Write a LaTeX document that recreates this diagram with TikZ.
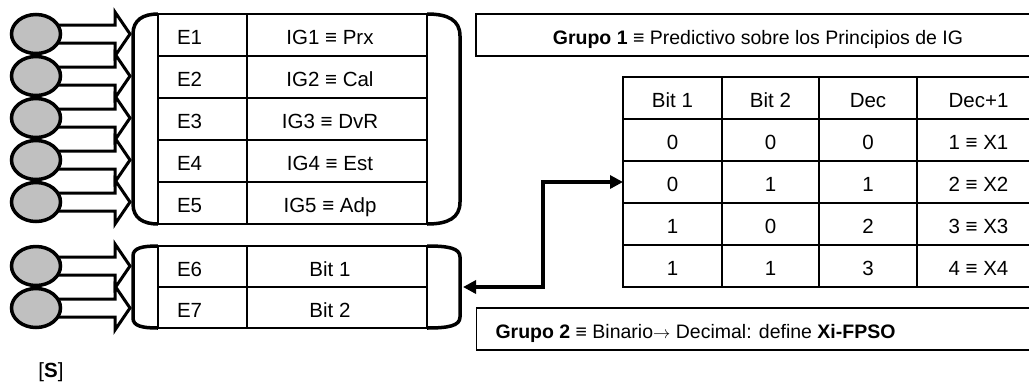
\documentclass[tikz,border=0pt]{standalone}
\usepackage{fontspec}
\setmainfont{Liberation Sans}
\usetikzlibrary{arrows.meta,shapes.geometric}
\definecolor{bulbgray}{HTML}{C0C0C0}
\begin{document}
\begin{tikzpicture}[x=1pt,y=-1pt]
\tikzset{
 base/.style={inner sep=0pt, outer sep=0pt},
 txt/.style={base, font=\fontsize{20.5}{24}\selectfont, text height=14.7pt, text depth=0pt},
 gtxt/.style={base, font=\fontsize{19.5}{23}\selectfont, text height=14pt, text depth=0pt},
 lcell/.style={base, draw, line width=1.3pt, minimum height=42pt},
 rcell/.style={base, draw, line width=1.8pt, minimum height=42pt},
 gbox/.style={base, draw, line width=1.5pt, minimum height=42pt, minimum width=564pt},
 bulb/.style={base, ellipse, draw, line width=3.5pt, fill=bulbgray, minimum width=49pt, minimum height=39pt},
 blk/.style={draw, line width=3pt, fill=white, line join=miter},
 brk/.style={draw, line width=3.5pt},
 conn/.style={draw, line width=4pt, {Triangle[length=13pt,width=13pt]}-{Triangle[length=13pt,width=13pt]}},
}
\useasboundingbox (0,0) rectangle (1029,384);
\clip (0,0) rectangle (1029,384);

% group boxes
\node[gbox] (g1) at (758,35) {};
\node[gtxt] (g1t) at ([yshift=-2pt]g1.center) {\textbf{Grupo 1} ≡ Predictivo sobre los Principios de IG};
\node[gbox] (g2) at (758.5,329) {};
\node[gtxt, anchor=west] (g2t) at ([xshift=19pt,yshift=-2pt]g2.west) {\textbf{Grupo 2} ≡ Binario{\fontsize{17}{20}\selectfont$\rightarrow$} Decimal: define \textbf{Xi-FPSO}};

% left table 1
\foreach \i/\ig/\y in {1/IG1 ≡ Prx/35, 2/IG2 ≡ Cal/77, 3/IG3 ≡ DvR/119, 4/IG4 ≡ Est/161, 5/IG5 ≡ Adp/203}{
  \node[lcell, minimum width=89pt] (e\i) at (202.5,\y) {};
  \node[lcell, minimum width=180pt] (ig\i) at (337,\y) {};
  \node[txt, anchor=west] (e\i t) at ([xshift=19pt,yshift=-2.5pt]e\i.west) {E\i};
  \node[txt] (ig\i t) at ([xshift=-7pt,yshift=-2.5pt]ig\i.center) {\ig};
}
% left table 2
\foreach \i/\ig/\y in {6/Bit 1/266.5, 7/Bit 2/307.5}{
  \node[lcell, minimum width=89pt, minimum height=41pt] (e\i) at (202.5,\y) {};
  \node[lcell, minimum width=180pt, minimum height=41pt] (ig\i) at (337,\y) {};
  \node[txt, anchor=west] (e\i t) at ([xshift=19pt,yshift=-2.5pt]e\i.west) {E\i};
  \node[txt] (ig\i t) at ([xshift=-7pt,yshift=-2.5pt]ig\i.center) {\ig};
}

% right table
\foreach \r/\a/\b/\c/\d/\y in {0/Bit 1/Bit 2/Dec/Dec+1/98, 1/0/0/0/1 ≡ X1/140, 2/0/1/1/2 ≡ X2/182, 3/1/0/2/3 ≡ X3/224, 4/1/1/3/4 ≡ X4/266}{
  \node[rcell, minimum width=99pt] (r\r c1) at (672.5,\y) {};
  \node[rcell, minimum width=97pt] (r\r c2) at (770.5,\y) {};
  \node[rcell, minimum width=98pt] (r\r c3) at (868,\y) {};
  \node[rcell, minimum width=123pt] (r\r c4) at (978.5,\y) {};
  \node[txt] (r\r t1) at ([yshift=-2.5pt]r\r c1.center) {\a};
  \node[txt] (r\r t2) at ([yshift=-2.5pt]r\r c2.center) {\b};
  \node[txt] (r\r t3) at ([yshift=-2.5pt]r\r c3.center) {\c};
  \node[txt] (r\r t4) at ([yshift=-2.5pt]r\r c4.center) {\d};
}

% brackets
\draw[brk] (158,14) .. controls (143,14) and (133,20) .. (133,34) -- (133,204) .. controls (133,218) and (143,224) .. (158,224);
\draw[brk] (427,14) .. controls (448,14) and (460,20) .. (460,36) -- (460,202) .. controls (460,218) and (448,224) .. (427,224);
\draw[brk] (158,246) .. controls (142,246) and (133,248) .. (133,256) -- (133,318) .. controls (133,326) and (142,328) .. (158,328);
\draw[brk] (427,246) .. controls (448,246) and (460,248) .. (460,257) -- (460,317) .. controls (460,326) and (448,328) .. (427,328);

% block arrows and bulbs
\foreach \n/\yc in {1/34, 2/76, 3/118, 4/160, 5/202, 6/266, 7/308}{
  \draw[blk] (45,\yc-9) -- (115,\yc-9) -- (115,\yc-22) -- (130,\yc) -- (115,\yc+22) -- (115,\yc+9) -- (45,\yc+9) -- cycle;
}
\foreach \n/\yc in {1/34, 2/76, 3/118, 4/160, 5/202, 6/266, 7/308}{
  \node[bulb] (c\n) at (36,\yc) {};
}

% connector
\coordinate (b2r) at (463,287);
\draw[conn] (b2r) -- ++(80,0) |- (r2c1.west);

% label
\node[txt] (s) at (51,370) {[\textbf{S}]};
\end{tikzpicture}
\end{document}
